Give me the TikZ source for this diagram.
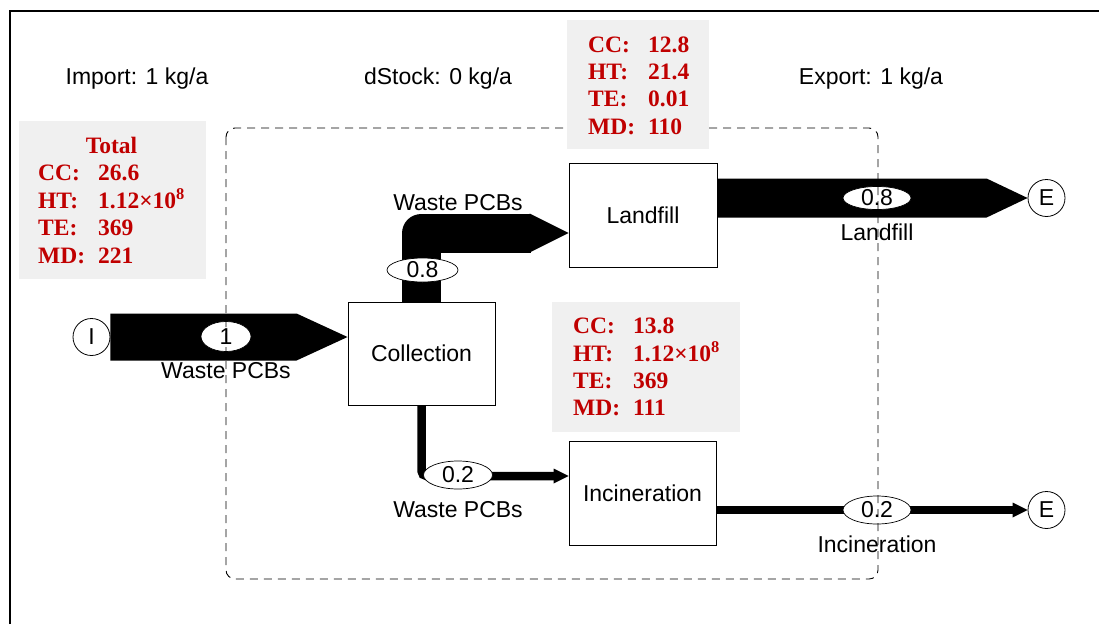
\documentclass[tikz,border=0pt]{standalone}
\usepackage{fontspec}
\setmainfont{Liberation Sans}
\newfontfamily\statfont{Liberation Serif}
\usetikzlibrary{shapes.geometric,calc}
\definecolor{statred}{HTML}{C00000}
\definecolor{statgray}{HTML}{F0F0F0}

% wide horizontal flow: start, tip, half width, head length
\newcommand\wideflow[4]{%
  \fill ($(#1)+(0,-#3)$) -- ($(#2)+(-#4,-#3)$) -- (#2) -- ($(#2)+(-#4,#3)$) -- ($(#1)+(0,#3)$) -- cycle;}
% arrow head of a narrow flow: tip, half width, length
\newcommand\thinhead[3]{%
  \fill ($(#1)+(-#3,-#2)$) -- (#1) -- ($(#1)+(-#3,#2)$) -- cycle;}

\begin{document}
\begin{tikzpicture}[x=1pt,y=-1pt,
  every node/.style={font=\fontsize{23}{27}\selectfont},
  process/.style={draw, line width=0.9pt, fill=white, minimum width=147pt, minimum height=103pt, inner sep=0pt},
  term/.style={draw, circle, line width=0.8pt, minimum size=37pt, inner sep=0pt},
  value/.style={draw, ellipse, fill=white, line width=0.7pt, inner sep=0pt},
  lbl/.style={anchor=base, inner sep=0pt},
  statbox/.style={fill=statgray},
  stats/.style={anchor=base west, inner sep=0pt, text=statred, font=\statfont\bfseries\fontsize{23.5}{27.4}\selectfont},
  boundary/.style={dash pattern=on 8pt off 6pt, line width=0.9pt, rounded corners=9pt},
]
\useasboundingbox (0,0) rectangle (1099,624);

% processes and terminals
\node[process] (coll) at (421.5,353.5) {Collection};
\node[process, minimum width=148pt, minimum height=104pt] (land) at (643,215) {Landfill};
\node[process, minimum height=104pt] (inc) at (642.5,493) {Incineration};
\node[term] (imp) at (91.5,337) {I};
\node[term] (exl) at (1046.5,198) {E};
\node[term] (exi) at (1046.5,510) {E};

\coordinate (collin) at (coll.west |- imp.east);
\coordinate (landin) at ($(land.west)+(0,18)$);
\coordinate (landout) at (land.east |- exl.west);
\coordinate (incin) at ($(inc.west)+(0,-17)$);
\coordinate (incout) at (inc.east |- exi.west);

% flows
\wideflow{imp.east}{collin}{23.5}{51}
\draw[line width=39pt, line join=round] (coll.north) |- ($(landin)+(-38,0)$);
\thinhead{landin}{19.5}{39}
\wideflow{landout}{exl.west}{19.5}{41}
\draw[line width=8.5pt, rounded corners=5pt] (coll.south) |- ($(incin)+(-14,0)$);
\thinhead{incin}{7.5}{15}
\draw[line width=8.5pt] (incout) -- ($(exi.west)+(-14,0)$);
\thinhead{exi.west}{7.5}{15}

% flow values
\node[value, minimum width=50pt, minimum height=30pt] (v1) at (226,336.5) {1};
\node[value, minimum width=71pt, minimum height=24pt] (v2) at (422.5,270) {0.8};
\node[value, minimum width=68pt, minimum height=23pt] (v3) at (877,198) {0.8};
\node[value, minimum width=69pt, minimum height=28pt] (v4) at (458,475) {0.2};
\node[value, minimum width=68pt, minimum height=28pt] (v5) at (877,510) {0.2};

% flow labels
\node[lbl] (l1) at (226,378) {Waste PCBs};
\node[lbl] (l2) at (458,210) {Waste PCBs};
\node[lbl] (l3) at (877,240) {Landfill};
\node[lbl] (l4) at (458,517) {Waste PCBs};
\node[lbl] (l5) at (877,552) {Incineration};

% system boundary
\draw[boundary] (226,128) rectangle (878,579);

% balance
\node[lbl] (tin) at (137,84) {Import: 1 kg/a};
\node[lbl] (tst) at (438,84) {dStock: 0 kg/a};
\node[lbl] (tout) at (871,84) {Export: 1 kg/a};

% impact results
\path[statbox] (19,121) rectangle (206,279);
\node[stats] (stot) at (38,153) {\begin{tabular}[t]{@{}p{60pt}@{}l@{}}
  \multicolumn{2}{@{}c@{}}{Total}\\
  CC: & 26.6\\
  HT: & 1.12×10\textsuperscript{8}\\
  TE: & 369\\
  MD: & 221
\end{tabular}};

\path[statbox] (567,20) rectangle (709,149);
\node[stats] (sland) at (588,52) {\begin{tabular}[t]{@{}p{60pt}@{}l@{}}
  CC: & 12.8\\
  HT: & 21.4\\
  TE: & 0.01\\
  MD: & 110
\end{tabular}};

\path[statbox] (552,302) rectangle (740,432);
\node[stats] (sinc) at (573,333) {\begin{tabular}[t]{@{}p{60pt}@{}l@{}}
  CC: & 13.8\\
  HT: & 1.12×10\textsuperscript{8}\\
  TE: & 369\\
  MD: & 111
\end{tabular}};

% frame
\draw[line width=2pt] (10,624) -- (10,11) -- (1099,11);
\end{tikzpicture}
\end{document}
